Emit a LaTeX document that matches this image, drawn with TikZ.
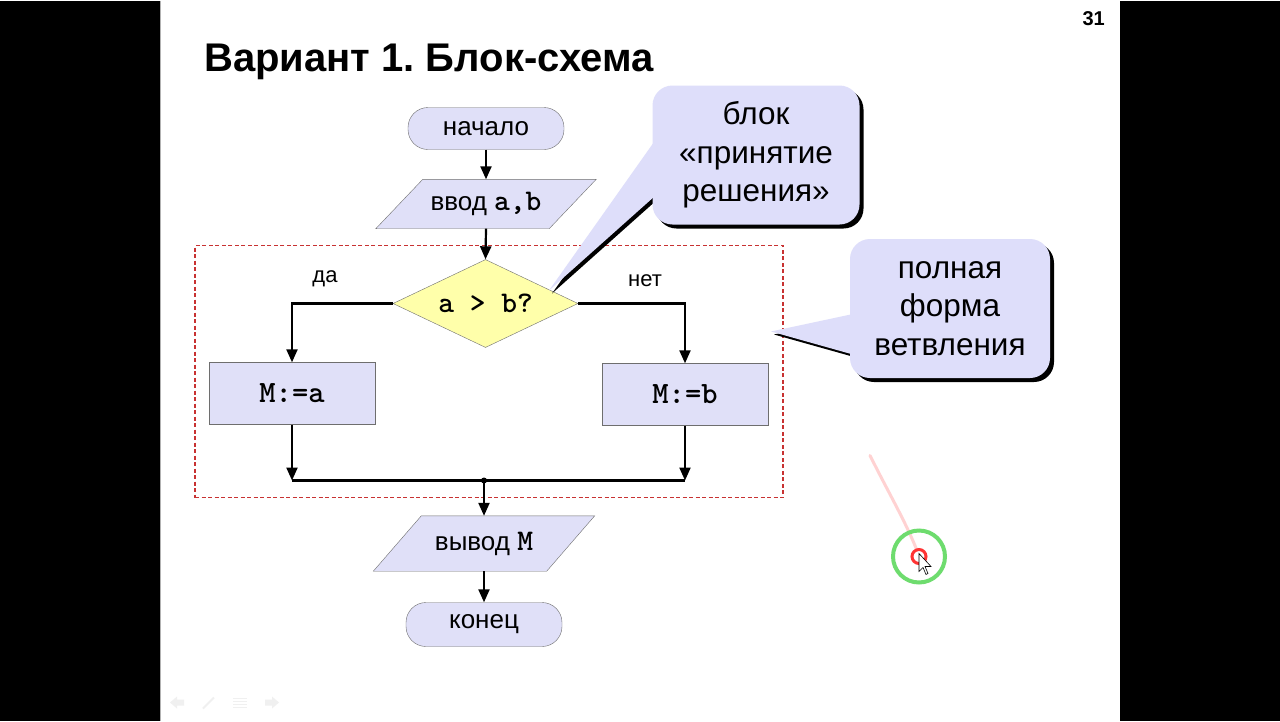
\documentclass[tikz,border=0pt]{standalone}
\usepackage{fontspec}
\setmainfont{Liberation Sans}
\usetikzlibrary{arrows.meta,shapes.geometric,shadows}
\pgfdeclarelayer{background}
\pgfdeclarelayer{bottom}
\pgfsetlayers{bottom,background,main}
\definecolor{lav}{RGB}{224,224,248}
\definecolor{callfill}{RGB}{222,222,250}
\definecolor{yel}{RGB}{255,255,170}
\definecolor{bord}{RGB}{110,110,110}
\definecolor{dred}{RGB}{200,50,50}
\definecolor{ringgreen}{RGB}{110,220,110}
\newcommand{\codef}{\ttfamily\bfseries}
\begin{document}
\begin{tikzpicture}[x=1pt,y=-1pt,
  conn/.style={line width=2.2pt,-{Triangle[length=13pt,width=11pt]}},
  plain/.style={line width=2.2pt},
  sansfont/.style={font=\fontsize{26}{30}\selectfont},
  term/.style={draw=bord,fill=lav,rounded corners=20pt,minimum width=156pt,minimum height=42pt,inner sep=0pt,sansfont},
  iobody/.style={minimum width=173pt,inner sep=0pt,sansfont},
  procbox/.style={draw=bord,fill=lav,minimum width=166pt,minimum height=62pt,inner sep=0pt,font=\codef\fontsize{31}{32}\selectfont},
  decbox/.style={draw=bord,fill=yel,diamond,aspect=2.1,minimum width=185pt,minimum height=88pt,inner sep=0pt,font=\codef\fontsize{30}{32}\selectfont},
  lbl/.style={font=\fontsize{22}{26}\selectfont,inner sep=0pt},
  callbox/.style={fill=callfill,rounded corners=20pt,align=center,inner sep=0pt,
     font=\fontsize{31.5}{38.5}\selectfont,
     copy shadow={shadow xshift=4pt,shadow yshift=-4pt,fill=black,draw=none}},
  wedgefill/.style={fill=callfill},
  wedgeshadow/.style={fill=black}
]
% background and slide
\begin{pgfonlayer}{bottom}
\fill[black] (0,0) rectangle (1280,720);
\fill[white] (160,0) rectangle (1120,720);
\draw[gray!60,line width=1pt] (160.5,0) -- (160.5,720);
\end{pgfonlayer}
\useasboundingbox (0,0) rectangle (1280,720);

% title and page number
\node[anchor=base west,font=\bfseries\fontsize{40}{44}\selectfont,inner sep=0pt] (title) at (204,71) {\frenchspacing Вариант 1. Блок-схема};
\node[anchor=base east,font=\bfseries\fontsize{20}{24}\selectfont,inner sep=0pt] (pnum) at (1105,25) {31};

% dashed frame
\node[draw=dred,dash pattern=on 4pt off 2.5pt,line width=1.1pt,minimum width=588pt,minimum height=252pt,inner sep=0pt] (frame) at (489,371) {};

% flowchart nodes
\node[term] (start) at (486,128) {начало};
\node[iobody,minimum height=49pt] (in) at (486,203.5) {ввод {\codef\fontsize{30}{32}\selectfont a,b}};
\node[decbox] (dec) at (485.5,303) {a > b?};
\node[procbox] (ma) at (292,393) {M:=a};
\node[procbox] (mb) at (685,394) {M:=b};
\node[iobody,minimum height=55pt] (out) at (484,543) {вывод {\codef\fontsize{30}{32}\selectfont M}};
\node[term,minimum height=44pt] (end) at (484,624) {конец};

\begin{pgfonlayer}{background}
\filldraw[draw=bord,fill=lav] ([xshift=23.5pt]in.north west) -- ([xshift=23.5pt]in.north east) -- ([xshift=-23.5pt]in.south east) -- ([xshift=-23.5pt]in.south west) -- cycle;
\filldraw[draw=bord,fill=lav] ([xshift=24pt]out.north west) -- ([xshift=24pt]out.north east) -- ([xshift=-24pt]out.south east) -- ([xshift=-24pt]out.south west) -- cycle;
\end{pgfonlayer}

% labels
\node[lbl] (yes) at (325,278) {да};
\node[lbl] (no) at (645,280) {нет};

% connectors
\coordinate (j) at (484,480);
\draw[conn] (start.south) -- (in.north);
\draw[conn] (in.south) -- (dec.north);
\draw[conn] (dec.west) -| (ma.north);
\draw[conn] (dec.east) -| (mb.north);
\draw[conn] (ma.south) -- (ma.south |- j);
\draw[conn] (mb.south) -- (mb.south |- j);
\draw[plain] (ma.south |- j) -- (mb.south |- j);
\fill (j) circle (3pt);
\draw[conn] (j) -- (out.north);
\draw[conn] (out.south) -- (end.north);

% callouts
\coordinate (t1) at (549,290);
\coordinate (t2) at (771,331);
\fill[wedgeshadow] ([shift={(3pt,-3pt)}]t1) -- (663,136) -- (663,194) -- cycle;
\fill[wedgeshadow] ([shift={(3pt,-3pt)}]t2) -- (863,315) -- (863,359) -- cycle;
\node[callbox,minimum width=207pt,minimum height=139pt] (c1) at (756,154.5) {блок\\«принятие\\решения»};
\node[callbox,minimum width=200pt,minimum height=139pt] (c2) at (950,308) {полная\\форма\\ветвления};
\fill[wedgefill] (t1) -- (660,133) -- (660,191) -- cycle;
\fill[wedgefill] (t2) -- (860,312) -- (860,356) -- cycle;

% laser pointer marks
\draw[red!35,opacity=0.5,line width=3pt,line cap=round] (870,455) .. controls (890,495) and (905,520) .. (917,550);
\draw[ringgreen,line width=4pt] (919,556) circle (26pt);
\draw[red!80,line width=3pt] (919,556) circle (7pt);
\filldraw[fill=white,draw=black,line width=0.6pt] (919,553) -- (919,571) -- (923,567) -- (926,574) -- (928,573) -- (925,566) -- (931,566) -- cycle;

% faint navigation icons
\fill[gray!12] (170,702) -- (177,696) -- (177,699) -- (184,699) -- (184,705) -- (177,705) -- (177,708) -- cycle;
\draw[gray!12,line width=2pt] (203,708) -- (214,697);
\foreach \yy in {698,701,704,707} \draw[gray!12,line width=1.2pt] (233,\yy) -- (247,\yy);
\fill[gray!12] (279,702) -- (272,696) -- (272,699) -- (265,699) -- (265,705) -- (272,705) -- (272,708) -- cycle;
\end{tikzpicture}
\end{document}
